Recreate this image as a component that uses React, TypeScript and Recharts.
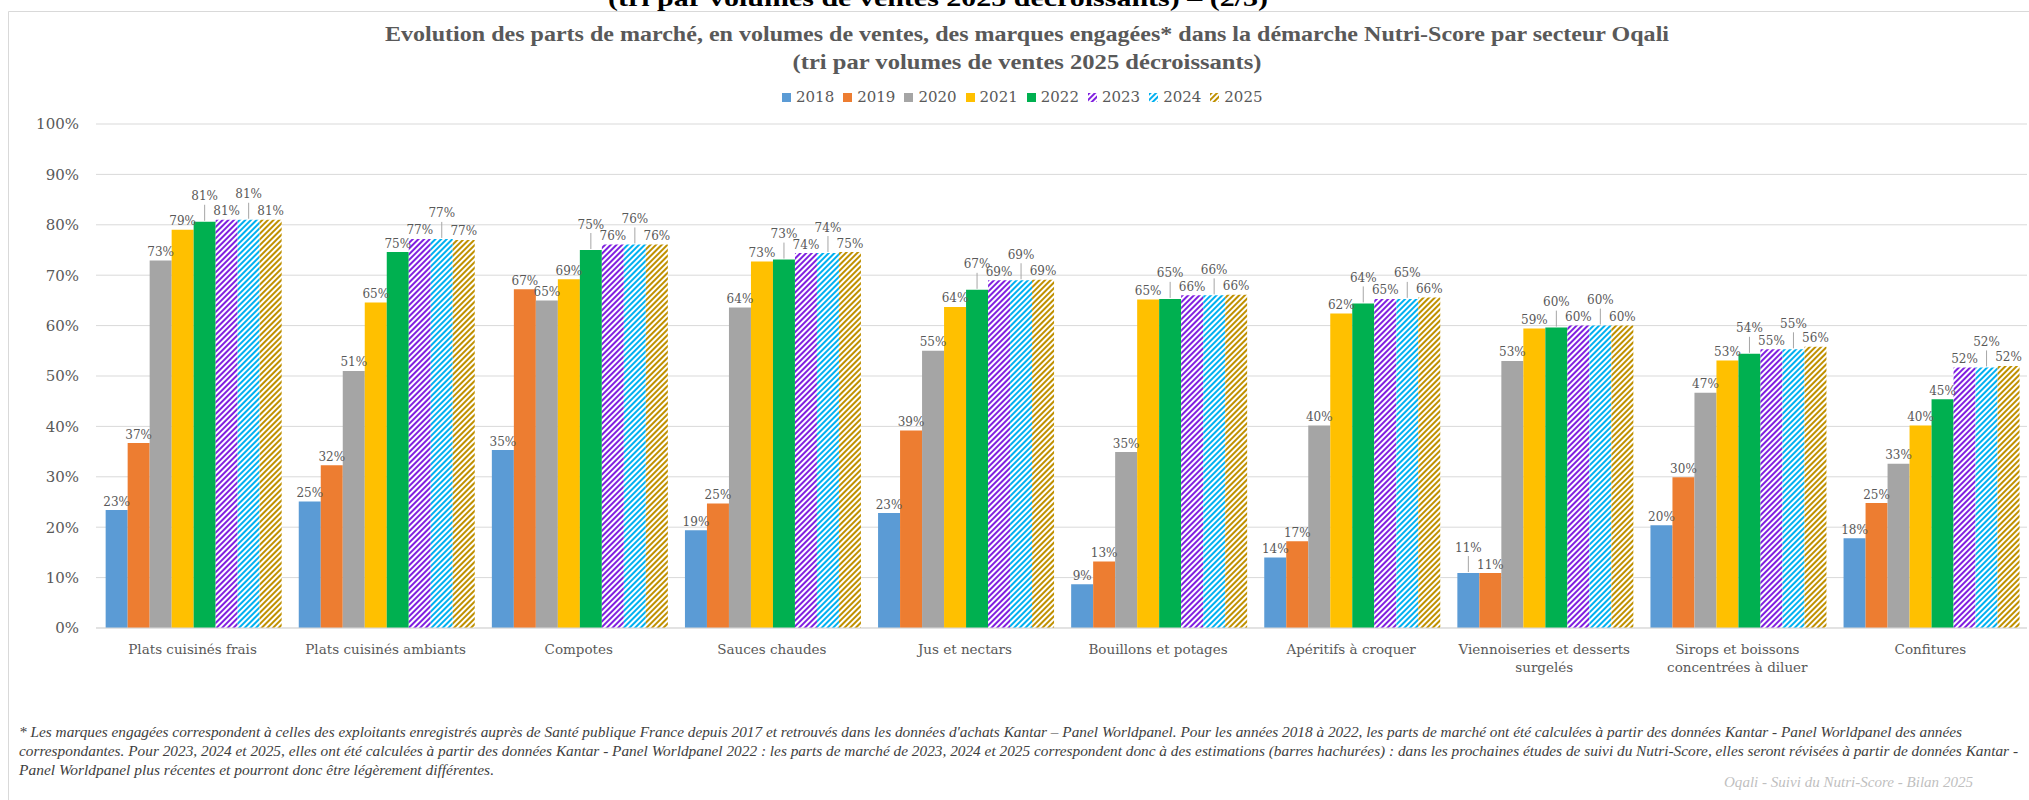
import { BarChart, Bar, XAxis, YAxis, CartesianGrid, LabelList } from 'recharts';

const CATEGORIES = [
  'Plats cuisinés frais',
  'Plats cuisinés ambiants',
  'Compotes',
  'Sauces chaudes',
  'Jus et nectars',
  'Bouillons et potages',
  'Apéritifs à croquer',
  'Viennoiseries et desserts\nsurgelés',
  'Sirops et boissons\nconcentrées à diluer',
  'Confitures',
];

const YEARS = ['2018', '2019', '2020', '2021', '2022', '2023', '2024', '2025'];

// parts de marché (%) par secteur, dans l'ordre de CATEGORIES
const V2018 = [23.4, 25.1, 35.3, 19.4, 22.8, 8.7, 14.0, 10.9, 20.4, 17.8];
const V2019 = [36.7, 32.3, 67.2, 24.7, 39.2, 13.2, 17.2, 10.9, 29.9, 24.8];
const V2020 = [72.9, 51.0, 65.0, 63.6, 55.0, 34.9, 40.2, 53.0, 46.7, 32.6];
const V2021 = [79.0, 64.6, 69.2, 72.7, 63.7, 65.2, 62.4, 59.4, 53.1, 40.2];
const V2022 = [80.6, 74.6, 75.0, 73.1, 67.1, 65.3, 64.4, 59.6, 54.4, 45.4];
const V2023 = [81.0, 77.2, 76.1, 74.4, 69.0, 66.0, 65.3, 60.0, 55.3, 51.7];
const V2024 = [81.0, 77.2, 76.1, 74.4, 69.0, 66.0, 65.3, 60.0, 55.3, 51.7];
const V2025 = [81.0, 77.0, 76.1, 74.6, 69.1, 66.1, 65.6, 60.0, 55.8, 52.0];

const Y_TICKS = [0, 10, 20, 30, 40, 50, 60, 70, 80, 90, 100];

const TITLE = 'Evolution des parts de marché, en volumes de ventes, des marques engagées* dans la démarche Nutri-Score par secteur Oqali';
const SUBTITLE = '(tri par volumes de ventes 2025 décroissants)';
const PAGE_TITLE = '(tri par volumes de ventes 2025 décroissants) – (2/3)';
const NOTES = [
  "* Les marques engagées correspondent à celles des exploitants enregistrés auprès de Santé publique France depuis 2017 et retrouvés dans les données d'achats Kantar – Panel Worldpanel. Pour les années 2018 à 2022, les parts de marché ont été calculées à partir des données Kantar - Panel Worldpanel des années",
  'correspondantes. Pour 2023, 2024 et 2025, elles ont été calculées à partir des données Kantar - Panel Worldpanel 2022 : les parts de marché de 2023, 2024 et 2025 correspondent donc à des estimations (barres hachurées) : dans les prochaines études de suivi du Nutri-Score, elles seront révisées à partir de données Kantar -',
  'Panel Worldpanel plus récentes et pourront donc être légèrement différentes.',
];
const SOURCE = 'Oqali - Suivi du Nutri-Score - Bilan 2025';

const SERIES = [
  { key: 'y2018', values: V2018, color: '#5B9BD5', hatched: false },
  { key: 'y2019', values: V2019, color: '#ED7D31', hatched: false },
  { key: 'y2020', values: V2020, color: '#A5A5A5', hatched: false },
  { key: 'y2021', values: V2021, color: '#FFC000', hatched: false },
  { key: 'y2022', values: V2022, color: '#00B050', hatched: false },
  { key: 'y2023', values: V2023, color: '#8020E0', hatched: true },
  { key: 'y2024', values: V2024, color: '#00B0F0', hatched: true },
  { key: 'y2025', values: V2025, color: '#BF9000', hatched: true },
];

const data = CATEGORIES.map((name, i) => {
  const row: Record<string, string | number> = { name };
  SERIES.forEach((s) => {
    row[s.key] = s.values[i];
  });
  return row;
});

const TEXT = '#595959';
const SERIF = '"DejaVu Serif", serif';

function HatchDef({ id, color }: { id: string; color: string }) {
  return (
    <pattern id={id} patternUnits="userSpaceOnUse" width={4} height={4} patternTransform="rotate(45)">
      <rect width={4} height={4} fill="#fff" />
      <rect width={2} height={4} fill={color} />
    </pattern>
  );
}

// Excel-like placement: labels that would collide with the next one are lifted with a leader line
function makeLabel(seriesIdx: number) {
  return (props: any) => {
    const { x, y, width, height, value, index } = props;
    if (value == null || !height) return null;
    const px = height / value;
    const bottom = y + height;
    const tops = SERIES.map((s) => bottom - s.values[index] * px);
    const placed: number[] = [];
    const lifted: boolean[] = [];
    for (let k = SERIES.length - 1; k >= 0; k--) {
      const nat = tops[k] - 9;
      if (k < SERIES.length - 1 && Math.abs(nat - placed[k + 1]) < 10) {
        lifted[k] = true;
        placed[k] = tops[k] - 26;
      } else {
        lifted[k] = false;
        placed[k] = nat;
      }
    }
    const cx = x + width / 2;
    const ly = placed[seriesIdx];
    return (
      <g>
        {lifted[seriesIdx] && <line x1={cx} x2={cx} y1={ly + 9} y2={y - 1} stroke="#a6a6a6" strokeWidth={1} />}
        <text x={cx} y={ly + 4.5} textAnchor="middle" fill={TEXT} fontSize={12} fontFamily={SERIF}>
          {`${Math.round(value)}%`}
        </text>
      </g>
    );
  };
}

function CategoryTick({ x, y, payload }: any) {
  const lines = String(payload.value).split('\n');
  return (
    <text x={x} y={y} textAnchor="middle" fill={TEXT} fontSize={13.5} fontFamily={SERIF}>
      {lines.map((l, i) => (
        <tspan key={i} x={x} dy={i === 0 ? 18 : 18}>
          {l}
        </tspan>
      ))}
    </text>
  );
}

function Legend() {
  return (
    <div style={{ position: 'absolute', left: 782, top: 88, display: 'flex', alignItems: 'center', fontFamily: SERIF, fontSize: 15, color: TEXT, lineHeight: '18px' }}>
      {SERIES.map((s, i) => (
        <div key={s.key} style={{ display: 'flex', alignItems: 'center', marginRight: 9 }}>
          <svg width={9} height={9} style={{ marginRight: 5 }}>
            {s.hatched && (
              <defs>
                <HatchDef id={`lg-${s.key}`} color={s.color} />
              </defs>
            )}
            <rect width={9} height={9} fill={s.hatched ? `url(#lg-${s.key})` : s.color} />
          </svg>
          <span>{YEARS[i]}</span>
        </div>
      ))}
    </div>
  );
}

export default function App() {
  return (
    <div style={{ position: 'relative', width: 2029, height: 800, background: '#fff', overflow: 'hidden' }}>
      <style>{'body{margin:0}'}</style>
      <BarChart
        width={2029}
        height={800}
        data={data}
        margin={{ top: 124, right: 2, left: 0, bottom: 112 }}
        barCategoryGap="5%"
        barGap={0}
      >
        <defs>
          {SERIES.filter((s) => s.hatched).map((s) => (
            <HatchDef key={s.key} id={`hatch-${s.key}`} color={s.color} />
          ))}
        </defs>
        <CartesianGrid stroke="#d9d9d9" vertical={false} />
        <XAxis
          dataKey="name"
          height={60}
          interval={0}
          tickLine={false}
          axisLine={{ stroke: '#d9d9d9' }}
          tick={<CategoryTick />}
        />
        <YAxis
          width={96}
          domain={[0, 100]}
          ticks={Y_TICKS}
          tickFormatter={(v) => `${v}%`}
          tickLine={false}
          axisLine={false}
          tickMargin={11}
          tick={{ fill: TEXT, fontSize: 15, fontFamily: SERIF }}
        />
        {SERIES.map((s, i) => (
          <Bar key={s.key} dataKey={s.key} fill={s.hatched ? `url(#hatch-${s.key})` : s.color} isAnimationActive={false}>
            <LabelList dataKey={s.key} content={makeLabel(i)} />
          </Bar>
        ))}
      </BarChart>
      <Legend />
      <svg width={2029} height={800} style={{ position: 'absolute', left: 0, top: 0, pointerEvents: 'none' }}>
        <line x1={8.5} y1={11.5} x2={2029} y2={11.5} stroke="#d9d9d9" />
        <line x1={8.5} y1={11.5} x2={8.5} y2={800} stroke="#d9d9d9" />
        <text x={938} y={6} textAnchor="middle" fontFamily='"Liberation Serif", serif' fontWeight="bold" fontSize={24} fill="#000" textLength={660} lengthAdjust="spacingAndGlyphs">
          {PAGE_TITLE}
        </text>
        <text x={1027} y={41} textAnchor="middle" fontFamily='"Liberation Serif", serif' fontWeight="bold" fontSize={20.5} fill={TEXT} textLength={1284} lengthAdjust="spacingAndGlyphs">
          {TITLE}
        </text>
        <text x={1027} y={69} textAnchor="middle" fontFamily='"Liberation Serif", serif' fontWeight="bold" fontSize={20.5} fill={TEXT} textLength={469} lengthAdjust="spacingAndGlyphs">
          {SUBTITLE}
        </text>
        {NOTES.map((t, i) => (
          <text key={i} x={19} y={737 + i * 19} fontFamily='"Liberation Serif", serif' fontStyle="italic" fontSize={14.5} fill="#404040" textLength={[1943, 1999, 475][i]} lengthAdjust="spacingAndGlyphs">
            {t}
          </text>
        ))}
        <text x={1724} y={787} fontFamily='"Liberation Serif", serif' fontStyle="italic" fontSize={14.5} fill="#bfbfbf" textLength={249} lengthAdjust="spacingAndGlyphs">
          {SOURCE}
        </text>
      </svg>
    </div>
  );
}
